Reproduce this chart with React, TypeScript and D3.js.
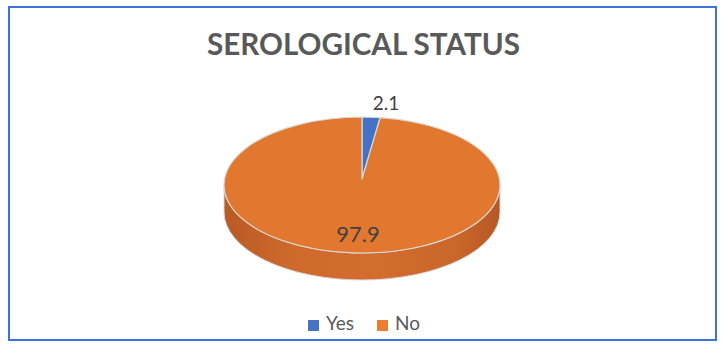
import React from "react";
import * as d3 from "d3";

const categories = ["Yes", "No"];
const values = [2.1, 97.9];
const labels = ["2.1", "97.9"];
const colors = ["#4472C4", "#E2782F"];
const title = "SEROLOGICAL STATUS";

const W = 725;
const H = 348;
const cx = 362;
const cy = 185;
const rx = 138;
const ry = 68;
const depth = 27;
const apexDy = -6;

function pt(a: number, dy = 0): [number, number] {
  return [cx + rx * Math.sin(a), cy - ry * Math.cos(a) + dy];
}

export default function App() {
  const pie = d3.pie<number>().sort(null).value((d) => d);
  const arcs = pie(values);
  const ax = cx;
  const ay = cy + apexDy;

  const slicePath = (a0: number, a1: number) => {
    const p0 = pt(a0);
    const p1 = pt(a1);
    const large = a1 - a0 > Math.PI ? 1 : 0;
    return `M${ax},${ay}L${p0[0]},${p0[1]}A${rx},${ry} 0 ${large} 1 ${p1[0]},${p1[1]}Z`;
  };

  // front side: from angle PI/2 to 3PI/2 (right -> bottom -> left)
  const sR = pt(Math.PI / 2);
  const sL = pt((3 * Math.PI) / 2);
  const sidePath = `M${sR[0]},${sR[1]}A${rx},${ry} 0 0 1 ${sL[0]},${sL[1]}L${sL[0]},${sL[1] + depth}A${rx},${ry} 0 0 0 ${sR[0]},${sR[1] + depth}Z`;

  const legendX = d3.scaleOrdinal<string, number>().domain(categories).range([308, 377]);

  return (
    <svg width={W} height={H} style={{ position: "absolute", left: 0, top: 0, display: "block" }}>
      <defs>
        <linearGradient id="side" x1="0" x2="1" y1="0" y2="0">
          <stop offset="0" stopColor="#B85A24" />
          <stop offset="0.25" stopColor="#CF6A2C" />
          <stop offset="0.55" stopColor="#D26D2E" />
          <stop offset="0.85" stopColor="#C9662A" />
          <stop offset="1" stopColor="#B55823" />
        </linearGradient>
      </defs>
      <rect x={0} y={0} width={W} height={H} fill="#fff" />
      <rect x={9} y={7} width={707} height={333} fill="#fff" stroke="#3F72D9" strokeWidth={2} />
      <text
        x={363.5}
        y={55}
        textAnchor="middle"
        fontFamily="Lato, 'Open Sans', sans-serif"
        fontWeight="bold"
        fontSize={30}
        fill="#595959"
        textLength={313}
        lengthAdjust="spacingAndGlyphs"
      >
        {title}
      </text>
      <path d={sidePath} fill="url(#side)" stroke="#D9D9D9" strokeWidth={1} />
      {arcs.map((a, i) => (
        <path
          key={categories[i]}
          d={slicePath(a.startAngle, a.endAngle)}
          fill={colors[i]}
          stroke="#D9D9D9"
          strokeWidth={1.2}
          strokeLinejoin="round"
        />
      ))}
      <text x={386} y={110} textAnchor="middle" fontFamily="Lato, sans-serif" fontSize={19} fill="#404040">
        {labels[0]}
      </text>
      <text x={358} y={242} textAnchor="middle" fontFamily="Lato, sans-serif" fontSize={22} fill="#404040">
        {labels[1]}
      </text>
      {categories.map((c, i) => (
        <g key={c}>
          <rect x={legendX(c)} y={320} width={11} height={11} fill={colors[i] === "#E2782F" ? "#ED7D31" : colors[i]} />
          <text x={legendX(c) + 18} y={330} fontFamily="Lato, sans-serif" fontSize={19} fill="#595959">
            {c}
          </text>
        </g>
      ))}
    </svg>
  );
}
